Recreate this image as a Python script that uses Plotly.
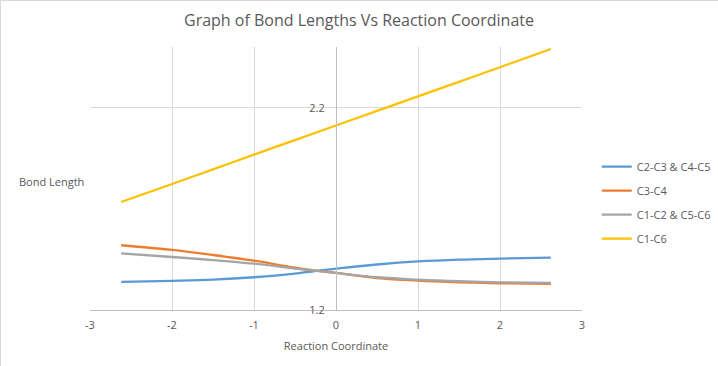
import plotly.graph_objects as go

x_vals = [-2.62, -2.0, -1.5, -1.0, -0.5, 0.0, 0.5, 1.0, 1.5, 2.0, 2.62]
c2c3_c4c5 = [1.339, 1.344, 1.350, 1.362, 1.380, 1.405, 1.425, 1.440, 1.449, 1.454, 1.459]
c3c4 = [1.520, 1.497, 1.472, 1.444, 1.410, 1.383, 1.358, 1.345, 1.337, 1.332, 1.329]
c1c2_c5c6 = [1.480, 1.462, 1.447, 1.429, 1.405, 1.383, 1.362, 1.350, 1.342, 1.337, 1.334]
c1c6 = [1.734, 1.823, 1.895, 1.968, 2.040, 2.112, 2.184, 2.256, 2.328, 2.400, 2.490]

series_names = ["C2-C3 & C4-C5", "C3-C4", "C1-C2 & C5-C6", "C1-C6"]
series_vals = [c2c3_c4c5, c3c4, c1c2_c5c6, c1c6]
colors = ["#5b9bd5", "#ed7d31", "#a5a5a5", "#ffc000"]

x_ticks = [-3, -2, -1, 0, 1, 2, 3]
y_ticks = [1.2, 2.2]

fig = go.Figure()
for i, (name, vals, col) in enumerate(zip(series_names, series_vals, colors)):
    fig.add_trace(go.Scatter(
        x=x_vals, y=vals, name=name, mode="lines",
        line=dict(color=col, width=2.3, shape="spline", smoothing=1.0),
        legendgroup=str(i),
    ))

font_fam = "Open Sans, Noto Sans, sans-serif"
fig.update_layout(
    width=718, height=366,
    margin=dict(l=90, r=136, t=47, b=56, autoexpand=False),
    paper_bgcolor="white", plot_bgcolor="white",
    title=dict(text="Graph of Bond Lengths Vs Reaction Coordinate",
               x=0.5, xref="container", xanchor="center",
               y=1 - 20 / 366, yanchor="middle",
               font=dict(family=font_fam, size=16, color="#595959")),
    font=dict(family=font_fam, size=11, color="#595959"),
    xaxis=dict(range=[-3, 3], tickvals=x_ticks, ticktext=[str(v) for v in x_ticks],
               showgrid=True, gridcolor="#d9d9d9", gridwidth=1, automargin=False,
               zeroline=False, showline=True, linecolor="#bfbfbf", linewidth=1,
               ticks="", ticklabelstandoff=5, tickfont=dict(size=11, color="#595959"),
               title=dict(text="Reaction Coordinate", standoff=11,
                          font=dict(size=11, color="#595959"))),
    yaxis=dict(range=[1.2, 2.5], tickvals=y_ticks, ticktext=[str(v) for v in y_ticks],
               anchor="free", position=0.5, automargin=False,
               showgrid=True, gridcolor="#d9d9d9", gridwidth=1,
               zeroline=False, showline=True, linecolor="#bfbfbf", linewidth=1,
               ticks="", ticklabelstandoff=9, tickfont=dict(size=11, color="#595959")),
    legend=dict(x=1.03, xanchor="left", y=0.408, yanchor="middle",
                font=dict(size=11, color="#595959"),
                tracegroupgap=5, itemwidth=30, bgcolor="rgba(0,0,0,0)"),
    showlegend=True,
    annotations=[dict(text="Bond Length", xref="paper", yref="paper",
                      x=(51 - 90) / 492, y=(310 - 181) / 263, xanchor="center",
                      yanchor="middle", showarrow=False,
                      font=dict(size=11, color="#595959"))],
    shapes=[dict(type="rect", xref="paper", yref="paper",
                 x0=-89.5 / 492, x1=1 + 200 / 492,
                 y0=-200 / 263, y1=1 + 46.5 / 263,
                 line=dict(color="#d9d9d9", width=1), layer="below")],
)

fig.write_html("out.html", config={"displayModeBar": False},
               post_script="document.body.style.margin='0';document.body.style.padding='0';")
